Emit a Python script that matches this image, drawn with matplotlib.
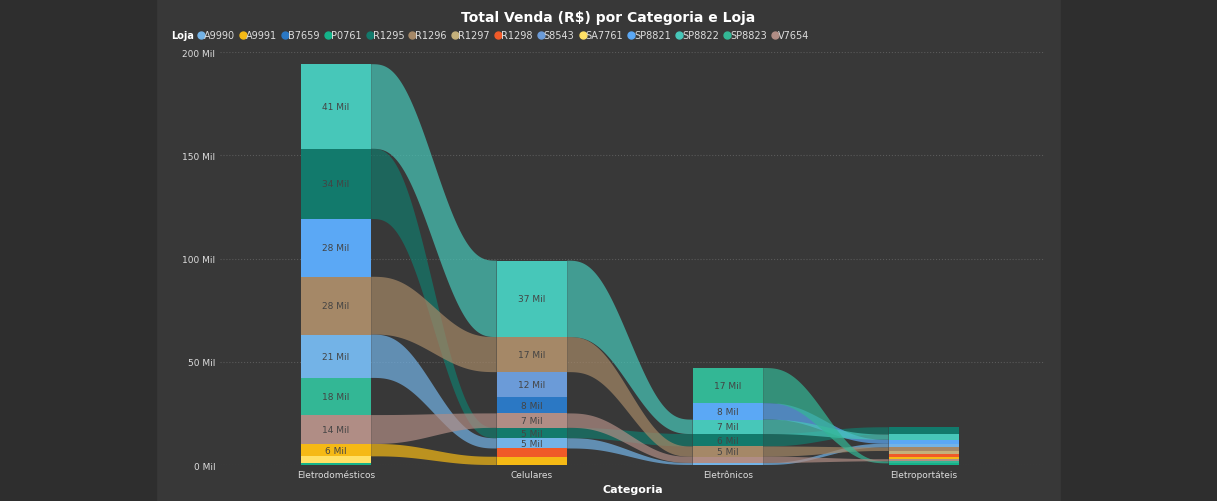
import matplotlib.pyplot as plt
import numpy as np
from matplotlib.lines import Line2D

categorias = ['Eletrodomésticos', 'Celulares', 'Eletrônicos', 'Eletroportáteis']
lojas = ['A9990', 'A9991', 'B7659', 'P0761', 'R1295', 'R1296', 'R1297', 'R1298',
         'S8543', 'SA7761', 'SP8821', 'SP8822', 'SP8823', 'V7654']
cores = ['#73B3E7', '#F5B915', '#2B78C4', '#14B38A', '#127A6C', '#A58867', '#C4B07B',
         '#F05A28', '#6B9BD8', '#FFE066', '#5BA8F5', '#47C7B9', '#33B795', '#B08D85']

# vendas em milhares, uma lista por categoria (ordem de lojas)
eletrodomesticos = [21, 6, 0, 1.2, 34, 28, 0, 0, 0, 3, 28, 41, 18, 14]
celulares        = [5, 4, 8, 0, 5, 17, 0, 4, 12, 0, 0, 37, 0, 7]
eletronicos      = [1, 0, 0, 0, 6, 5, 0, 0, 0, 0, 8, 7, 17, 3]
eletroportateis  = [1.8, 1.2, 0, 0.8, 3.5, 1.7, 1.5, 1.3, 0, 0, 2.0, 2.5, 1.0, 1.0]
valores = np.array([eletrodomesticos, celulares, eletronicos, eletroportateis])

bg = '#383838'
fig = plt.figure(figsize=(12.17, 5.02), dpi=100)
fig.patch.set_facecolor(bg)
fig.add_artist(plt.Rectangle((0, 0), 0.128, 1, transform=fig.transFigure, color='#2e2e2e'))
fig.add_artist(plt.Rectangle((0.872, 0), 0.128, 1, transform=fig.transFigure, color='#2e2e2e'))
ax = fig.add_axes([0.181, 0.0717, 0.678, 0.8223])
ax.set_facecolor(bg)

w = 0.36
# posições empilhadas (menor embaixo, maior em cima)
base = np.zeros_like(valores)
for i in range(len(categorias)):
    ordem = np.argsort(valores[i], kind='stable')
    acc = 0
    for j in ordem:
        base[i, j] = acc
        acc += valores[i, j]

t = np.linspace(0, 1, 80)
s = t ** 3 * (t * (6 * t - 15) + 10)
for i in range(len(categorias) - 1):
    for j in range(len(lojas)):
        if valores[i, j] <= 0 or valores[i + 1, j] <= 0:
            continue
        x = i + w / 2 + t * (1 - w)
        b = base[i, j] + (base[i + 1, j] - base[i, j]) * s
        tp = b + valores[i, j] + (valores[i + 1, j] - valores[i, j]) * s
        ax.fill_between(x, b, tp, facecolor=cores[j], edgecolor='none', alpha=0.7, lw=0, zorder=2)

for i in range(len(categorias)):
    for j in range(len(lojas)):
        v = valores[i, j]
        if v <= 0:
            continue
        ax.bar(i, v, bottom=base[i, j], width=w, color=cores[j], edgecolor='none', zorder=3, lw=0)
        if v >= 4.5:
            ax.text(i, base[i, j] + v / 2, f'{v:.0f} Mil', ha='center', va='center',
                    fontsize=6.5, color='#444444', zorder=4)

ax.set_xlim(-0.59, 3.62)
ax.set_ylim(0, 200)
ax.set_xticks(range(len(categorias)))
ax.set_xticklabels(categorias, fontsize=6.5, color='#dddddd')
ax.set_yticks([0, 50, 100, 150, 200])
ax.set_yticklabels(['0 Mil', '50 Mil', '100 Mil', '150 Mil', '200 Mil'], fontsize=6.5, color='#dddddd')
ax.tick_params(length=0)
ax.grid(axis='y', color='#5a5a5a', ls=':', lw=0.8, zorder=0)
for sp in ax.spines.values():
    sp.set_visible(False)
ax.set_xlabel('Categoria', color='white', fontsize=8, fontweight='bold', labelpad=4)
ax.set_ylabel('Total Venda', color='white', fontsize=8, labelpad=20)

fig.text(0.5, 0.965, 'Total Venda (R$) por Categoria e Loja', ha='center', va='center',
         color='white', fontsize=10, fontweight='bold')
fig.text(0.141, 0.928, 'Loja', ha='left', va='center', color='white', fontsize=7, fontweight='bold')
handles = [Line2D([], [], ls='', marker='o', ms=5, color=c) for c in cores]
leg = fig.legend(handles, lojas, loc='center left', bbox_to_anchor=(0.160, 0.928), ncol=14,
                 frameon=False, fontsize=7, handletextpad=-0.3, columnspacing=0.25,
                 handlelength=1.2, borderaxespad=0, borderpad=0)
for tx in leg.get_texts():
    tx.set_color('#dddddd')

fig.savefig('out.png', dpi=100, facecolor=bg)
